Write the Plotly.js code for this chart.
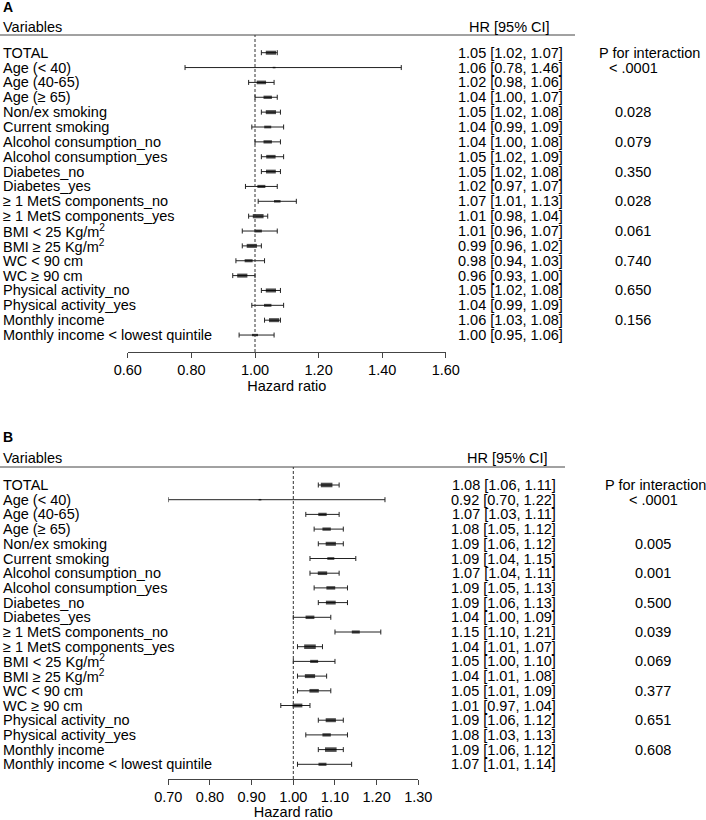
<!DOCTYPE html>
<html>
<head>
<meta charset="utf-8">
<script src="https://cdn.plot.ly/plotly-3.0.1.min.js"></script>
<style>
    body { margin: 0; background: #fff; }
    #chart { width: 706px; height: 820px; }
</style>
</head>
<body>
<div id="chart"></div>
<script>
// subgroup names, shared by both panels
const variables = [
    'TOTAL', 'Age (< 40)', 'Age (40-65)', 'Age (≥ 65)',
    'Non/ex smoking', 'Current smoking',
    'Alcohol consumption_no', 'Alcohol consumption_yes',
    'Diabetes_no', 'Diabetes_yes',
    '≥ 1 MetS components_no', '≥ 1 MetS components_yes',
    'BMI < 25 Kg/m<sup>2</sup>', 'BMI ≥ 25 Kg/m<sup>2</sup>',
    'WC < 90 cm', 'WC ≥ 90 cm',
    'Physical activity_no', 'Physical activity_yes',
    'Monthly income', 'Monthly income < lowest quintile'
]

// panel A
const hrA   = [1.05, 1.06, 1.02, 1.04, 1.05, 1.04, 1.04, 1.05, 1.05, 1.02, 1.07, 1.01, 1.01, 0.99, 0.98, 0.96, 1.05, 1.04, 1.06, 1.00]
const lowA  = [1.02, 0.78, 0.98, 1.00, 1.02, 0.99, 1.00, 1.02, 1.02, 0.97, 1.01, 0.98, 0.96, 0.96, 0.94, 0.93, 1.02, 0.99, 1.03, 0.95]
const highA = [1.07, 1.46, 1.06, 1.07, 1.08, 1.09, 1.08, 1.09, 1.08, 1.07, 1.13, 1.04, 1.07, 1.02, 1.03, 1.00, 1.08, 1.09, 1.08, 1.06]
const pA    = ['', '< .0001', '', '', '0.028', '', '0.079', '', '0.350', '', '0.028', '', '0.061', '', '0.740', '', '0.650', '', '0.156', '']
const ticksA = [0.6, 0.8, 1.0, 1.2, 1.4, 1.6]

// panel B
const hrB   = [1.08, 0.92, 1.07, 1.08, 1.09, 1.09, 1.07, 1.09, 1.09, 1.04, 1.15, 1.04, 1.05, 1.04, 1.05, 1.01, 1.09, 1.08, 1.09, 1.07]
const lowB  = [1.06, 0.70, 1.03, 1.05, 1.06, 1.04, 1.04, 1.05, 1.06, 1.00, 1.10, 1.01, 1.00, 1.01, 1.01, 0.97, 1.06, 1.03, 1.06, 1.01]
const highB = [1.11, 1.22, 1.11, 1.12, 1.12, 1.15, 1.11, 1.13, 1.13, 1.09, 1.21, 1.07, 1.10, 1.08, 1.09, 1.04, 1.12, 1.13, 1.12, 1.14]
const pB    = ['', '< .0001', '', '', '0.005', '', '0.001', '', '0.500', '', '0.039', '', '0.069', '', '0.377', '', '0.651', '', '0.608', '']
const ticksB = [0.7, 0.8, 0.9, 1.0, 1.1, 1.2, 1.3]

// box widths (px), roughly the study weights
const boxA = [7.3, 2, 6.7, 6, 7.3, 5, 6, 6.7, 7, 5.7, 4.7, 7.7, 5.3, 7.3, 5.7, 7.3, 7.3, 5.3, 7.3, 4.3]
const boxB = [8.3, 2, 6, 6, 7.3, 5, 6.7, 6.3, 7, 6.3, 5.7, 8.3, 5.7, 7.3, 6.7, 7, 7.3, 6, 8.3, 5.7]

const W = 706, H = 820
const FONT = '"Liberation Sans", Arial, sans-serif'
const FS = 14.5
const px = v => v / W
const py = v => 1 - v / H

// pixel geometry of each panel
const panels = [
    {key: 'A', xa: 'x', ya: 'y', top: 35, bottom: 352, row0: 52.7, step: 14.86, xl: 127.8, xr: 445.8, lineEnd: 575,
     hrRight: 565, hrHead: 509, pHead: 649, pCol: 633, titleY: 7, headY: 27,
     hr: hrA, lo: lowA, hi: highA, p: pA, box: boxA, ticks: ticksA},
    {key: 'B', xa: 'x2', ya: 'y2', top: 467, bottom: 779, row0: 485, step: 14.7, xl: 168.3, xr: 418.3, lineEnd: 565,
     hrRight: 558, hrHead: 507, pHead: 655, pCol: 653, titleY: 437, headY: 458,
     hr: hrB, lo: lowB, hi: highB, p: pB, box: boxB, ticks: ticksB}
]

const rows = variables.map((_, i) => i)
const fmt = v => v.toFixed(2)

const data = []
const annotations = []
const shapes = []
const layout = {
    width: W, height: H,
    margin: {l: 0, r: 0, t: 0, b: 0},
    paper_bgcolor: '#fff', plot_bgcolor: 'rgba(0,0,0,0)',
    showlegend: false,
    font: {family: FONT, size: FS, color: '#000'},
}

panels.forEach((p, k) => {
    const sfx = k === 0 ? '' : '2'

    data.push({
        type: 'scatter', mode: 'markers',
        x: p.hr, y: rows,
        xaxis: p.xa, yaxis: p.ya,
        marker: {
            symbol: 'line-ew', size: p.box, color: '#000',
            line: {color: '#000', width: p.box.map(b => Math.max(1.5, b * 0.55))}
        },
        error_x: {
            type: 'data', symmetric: false,
            array: p.hi.map((h, i) => h - p.hr[i]),
            arrayminus: p.lo.map((l, i) => p.hr[i] - l),
            thickness: 1, width: 2.5, color: '#222'
        },
        hoverinfo: 'skip'
    })

    const yBottom = (p.bottom - p.row0) / p.step
    const yTop = (p.top - p.row0) / p.step

    layout['xaxis' + sfx] = {
        domain: [px(p.xl), px(p.xr)],
        range: [p.ticks[0], p.ticks[p.ticks.length - 1]],
        anchor: p.ya,
        tickvals: p.ticks, ticktext: p.ticks.map(fmt),
        ticks: 'outside', ticklen: 5, tickwidth: 1, tickcolor: '#444',
        showline: true, linecolor: '#444', linewidth: 1,
        showgrid: false, zeroline: false,
        tickfont: {size: FS, color: '#000'},
        title: {text: 'Hazard ratio', font: {size: FS, color: '#000'}, standoff: 2}
    }
    layout['yaxis' + sfx] = {
        domain: [py(p.bottom), py(p.top)],
        range: [yBottom, yTop],
        anchor: p.xa,
        visible: false, showgrid: false, zeroline: false
    }

    // header rule and reference line at HR = 1
    shapes.push({type: 'line', xref: 'paper', yref: 'paper', x0: 0, x1: px(p.lineEnd), y0: py(p.top), y1: py(p.top),
        line: {color: '#444', width: 1}})
    shapes.push({type: 'line', xref: p.xa, yref: p.ya + ' domain', x0: 1, x1: 1, y0: 0, y1: 1,
        line: {color: '#333', width: 1, dash: '3px,2px'}})

    // panel letter and column headers
    annotations.push({xref: 'paper', yref: 'paper', x: px(1), y: py(p.titleY), text: '<b>' + p.key + '</b>',
        xanchor: 'left', yanchor: 'middle', showarrow: false, font: {size: 14}})
    annotations.push({xref: 'paper', yref: 'paper', x: px(1), y: py(p.headY), text: 'Variables',
        xanchor: 'left', yanchor: 'middle', showarrow: false})
    annotations.push({xref: 'paper', yref: 'paper', x: px(p.hrHead), y: py(p.headY), text: 'HR [95% CI]',
        xanchor: 'center', yanchor: 'middle', showarrow: false})
    annotations.push({xref: 'paper', yref: p.ya, x: px(p.pHead), y: 0, text: 'P for interaction',
        xanchor: 'center', yanchor: 'middle', showarrow: false})

    variables.forEach((v, i) => {
        annotations.push({xref: 'paper', yref: p.ya, x: px(1), y: i, text: v,
            xanchor: 'left', yanchor: 'middle', showarrow: false})
        annotations.push({xref: 'paper', yref: p.ya, x: px(p.hrRight), y: i,
            text: fmt(p.hr[i]) + ' [' + fmt(p.lo[i]) + ', ' + fmt(p.hi[i]) + ']',
            xanchor: 'right', yanchor: 'middle', showarrow: false})
        if (p.p[i]) {
            annotations.push({xref: 'paper', yref: p.ya, x: px(p.pCol), y: i, text: p.p[i],
                xanchor: 'center', yanchor: 'middle', showarrow: false})
        }
    })
})

layout.annotations = annotations
layout.shapes = shapes

Plotly.newPlot('chart', data, layout, {displayModeBar: false, staticPlot: true})
</script>
</body>
</html>
